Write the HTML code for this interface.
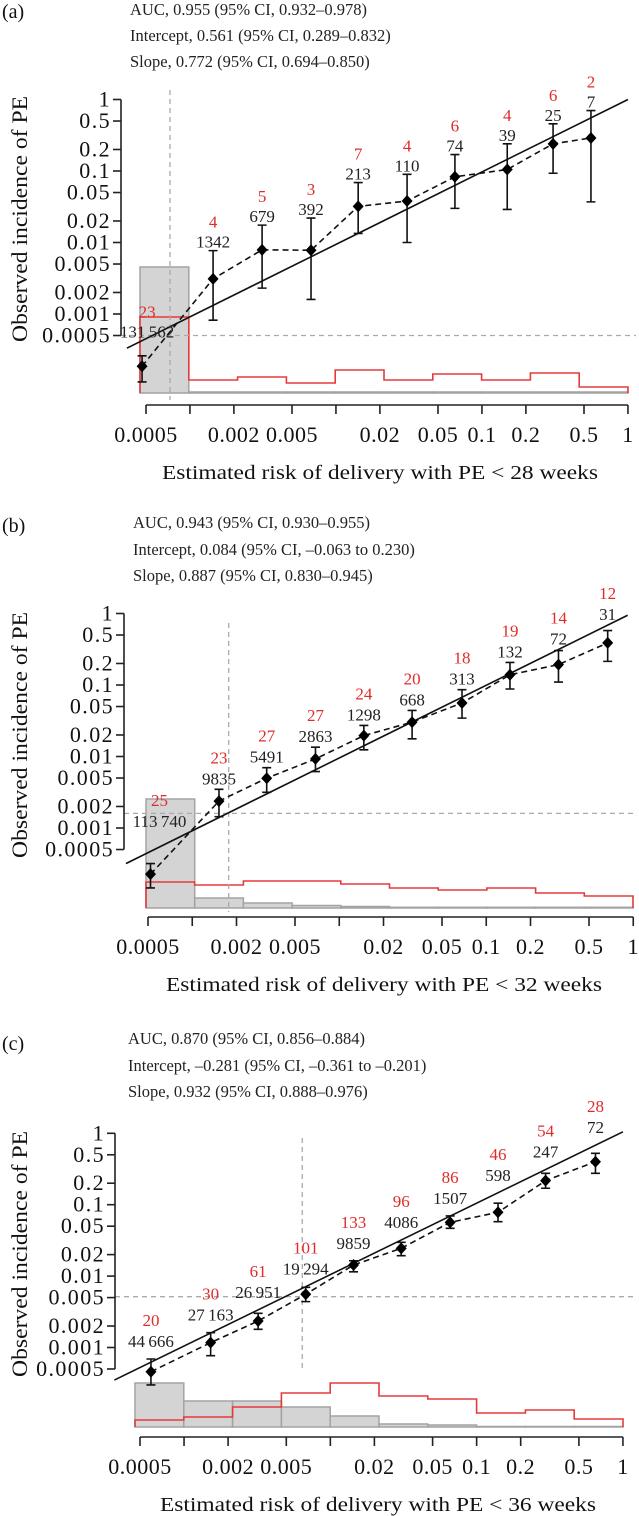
<!DOCTYPE html>
<html><head><meta charset="utf-8"><style>
html,body{margin:0;padding:0;background:#fff;}
svg{display:block;font-family:"Liberation Serif","DejaVu Serif",serif;}
</style></head><body>
<svg id="chart" width="639" height="1516" viewBox="0 0 639 1516" xmlns="http://www.w3.org/2000/svg"></svg>
<script>
const yTicks=[1,0.5,0.2,0.1,0.05,0.02,0.01,0.005,0.002,0.001,0.0005];
const yTickLabels=["1","0.5","0.2","0.1","0.05","0.02","0.01","0.005","0.002","0.001","0.0005"];
const xTicks=[0.0005,0.001,0.002,0.005,0.01,0.02,0.05,0.1,0.2,0.5,1];
const xTickLabels=["0.0005","","0.002","0.005","","0.02","0.05","0.1","0.2","0.5","1"];

// Panel (a) <28 weeks
const aRisk=[0.00047,0.00144,0.00312,0.00675,0.0142,0.0307,0.0653,0.149,0.307,0.558];
const aObs=[0.000186,0.0031,0.0079,0.0078,0.032,0.038,0.083,0.105,0.24,0.29];
const aHi=[0.00026,0.0077,0.0175,0.022,0.069,0.090,0.17,0.24,0.457,0.70];
const aLo=[0.000112,0.00082,0.0023,0.0016,0.0134,0.0100,0.030,0.029,0.093,0.037];
const aN=[131562,1342,679,392,213,110,74,39,25,7];
const aCases=[23,4,5,3,7,4,6,4,6,2];
const aGray=[126,1,1,1,1,1,1,1,1,1];
const aRed=[76,13,16,10,23,13,19,13,20,6];
const aLineX=[0.00037,1];
const aLineY=[0.000333,1];
const aRef=[0.00073,0.0005];
const aStats=["AUC, 0.955 (95% CI, 0.932–0.978)","Intercept, 0.561 (95% CI, 0.289–0.832)","Slope, 0.772 (95% CI, 0.694–0.850)"];

// Panel (b) <32 weeks
const bRisk=[0.00052,0.00152,0.00321,0.00689,0.0147,0.0313,0.0684,0.145,0.310,0.670];
const bObs=[0.000226,0.00238,0.00497,0.00925,0.0196,0.0303,0.056,0.139,0.193,0.388];
const bHi=[0.000318,0.00348,0.00698,0.0135,0.0272,0.0441,0.0859,0.207,0.303,0.578];
const bLo=[0.000145,0.00144,0.00316,0.00615,0.0124,0.0177,0.0344,0.0879,0.110,0.214];
const bN=[113740,9835,5491,2863,1298,668,313,132,72,31];
const bCases=[25,23,27,27,24,20,18,19,14,12];
const bGray=[109,10,5,2.5,1.5,0.7,0.7,0.7,0.7,0.7];
const bRed=[26,23,27,27,24,20,18,20,15,12];
const bLineX=[0.000354,0.916];
const bLineY=[0.000318,0.946];
const bRef=[0.00177,0.0016];
const bStats=["AUC, 0.943 (95% CI, 0.930–0.955)","Intercept, 0.084 (95% CI, –0.063 to 0.230)","Slope, 0.887 (95% CI, 0.830–0.945)"];

// Panel (c) <36 weeks
const cRisk=[0.000594,0.00152,0.00321,0.00679,0.0144,0.0305,0.0659,0.140,0.296,0.649];
const cObs=[0.000458,0.00117,0.00235,0.00556,0.0143,0.0245,0.0566,0.0783,0.217,0.400];
const cHi=[0.00069,0.00161,0.00301,0.00697,0.0164,0.0297,0.0695,0.105,0.275,0.525];
const cLo=[0.000299,0.000767,0.0018,0.00439,0.0115,0.0193,0.0467,0.0578,0.170,0.275];
const cN=[44666,27163,26951,19294,9859,4086,1507,598,247,72];
const cCases=[20,30,61,101,133,96,86,46,54,28];
const cGray=[44,26,26,20,11,3,2,0.5,0.5,0.5];
const cRed=[7,10,20,34,44,31,28,14,17,8];
const cLineX=[0.000334,1];
const cLineY=[0.00035,1.05];
const cRef=[0.00643,0.00515];
const cStats=["AUC, 0.870 (95% CI, 0.856–0.884)","Intercept, –0.281 (95% CI, –0.361 to –0.201)","Slope, 0.932 (95% CI, 0.888–0.976)"];

const NS="http://www.w3.org/2000/svg";
const svg=document.getElementById('chart');
function mk(tag,attrs,parent){const e=document.createElementNS(NS,tag);for(const k in attrs)e.setAttribute(k,attrs[k]);(parent||svg).appendChild(e);return e;}
function fmt(n){const s=String(n);return n>=10000?s.slice(0,s.length-3)+"\u2009"+s.slice(-3):s;}
const L=Math.log10;

function panel(id,tag,weeks,lay,risk,obs,lo,hi,n,cases,gray,red,lineX,lineY,ref,stats){
  const g=mk('g',{});
  
  
  const sx=v=>lay.x0+(L(v)-L(0.0005))*lay.dx;
  const sy=v=>lay.y1-L(v)*lay.dy;
  const pl=mk('text',{x:2,y:lay.lab,'font-size':20,fill:'#111'},g);pl.textContent='('+id+')';
  
  
  stats.forEach((s,i)=>{const t=mk('text',{x:lay.hx,y:lay.hy[i],'font-size':16.5,fill:'#222'},g);t.textContent=s;
    
    });
  const hw=(lay.hr-lay.hl)/gray.length;
  gray.forEach((v,i)=>{const r=mk('rect',{x:lay.hl+i*hw,y:lay.base-v,width:hw,height:v,fill:'#d4d4d4',stroke:'#a3a3a3','stroke-width':1.5},g);
    
    });
  let pts=[[lay.hl,lay.base]];
  red.forEach((v,i)=>{pts.push([lay.hl+i*hw,lay.base-v]);pts.push([lay.hl+(i+1)*hw,lay.base-v]);});
  pts.push([lay.hr,lay.base]);
  const rp=mk('polyline',{points:pts.map(p=>p.join(',')).join(' '),fill:'none',stroke:'#e53a3a','stroke-width':1.6},g);
  
  
  const vx=sx(ref[0]),hy=sy(ref[1]);
  const vl=mk('line',{x1:vx,x2:vx,y1:lay.vt,y2:lay.vb,stroke:'#aaa','stroke-width':1.3,'stroke-dasharray':'5,4'},g);
  
  
  const hl=mk('line',{x1:lay.ax,x2:636,y1:hy,y2:hy,stroke:'#aaa','stroke-width':1.3,'stroke-dasharray':'5,4'},g);
  
  
  const ya=mk('line',{x1:lay.ax,x2:lay.ax,y1:sy(1),y2:sy(0.0005),stroke:'#222','stroke-width':1.6},g);
  
  
  yTicks.forEach((v,i)=>{const y=sy(v);mk('line',{x1:lay.ax-8,x2:lay.ax,y1:y,y2:y,stroke:'#222','stroke-width':1.6},g);
    const t=mk('text',{x:lay.ax-10,y:y+7,'font-size':22,'text-anchor':'end','letter-spacing':1.4,fill:'#111'},g);t.textContent=yTickLabels[i];
    
    });
  const yt=mk('text',{x:0,y:0,'font-size':22,'text-anchor':'middle',fill:'#111',textLength:246,lengthAdjust:'spacingAndGlyphs',transform:'translate(27,'+lay.yt+') rotate(-90)'},g);
  yt.textContent='Observed incidence of PE';
  
  
  const xa=mk('line',{x1:sx(0.0005),x2:sx(1),y1:lay.xa,y2:lay.xa,stroke:'#222','stroke-width':1.6},g);
  
  
  xTicks.forEach((v,i)=>{const x=sx(v);mk('line',{x1:x,x2:x,y1:lay.xa,y2:lay.xa+9,stroke:'#222','stroke-width':1.6},g);
    if(xTickLabels[i]){const t=mk('text',{x:x,y:lay.xa+37,'font-size':22,'text-anchor':'middle','letter-spacing':0.5,fill:'#111'},g);t.textContent=xTickLabels[i];
    
    }});
  const xt=mk('text',{x:lay.xtc,y:lay.xa+74,'font-size':20,'text-anchor':'middle',fill:'#111',textLength:436,lengthAdjust:'spacingAndGlyphs'},g);
  xt.textContent='Estimated risk of delivery with PE < '+weeks+' weeks';
  
  
  const cl=mk('line',{x1:sx(lineX[0]),y1:sy(lineY[0]),x2:sx(lineX[1]),y2:sy(lineY[1]),stroke:'#111','stroke-width':1.6},g);
  
  
  const lineAt=x=>{const x1=sx(lineX[0]),y1=sy(lineY[0]),x2=sx(lineX[1]),y2=sy(lineY[1]);return y1+(y2-y1)*(x-x1)/(x2-x1);};
  const dl=mk('polyline',{points:risk.map((r,i)=>sx(r)+','+sy(obs[i])).join(' '),fill:'none',stroke:'#111','stroke-width':1.6,'stroke-dasharray':'6,4'},g);
  
  
  risk.forEach((r,i)=>{
    const x=sx(r),y=sy(obs[i]),yh=sy(hi[i]),yl=sy(lo[i]);
    const eb=mk('path',{d:`M${x},${yh}V${yl}M${x-4.5},${yh}H${x+4.5}M${x-4.5},${yl}H${x+4.5}`,stroke:'#111','stroke-width':1.6,fill:'none'},g);
    
    
    const d=mk('path',{d:`M${x},${y-6}L${x+5.5},${y}L${x},${y+6}L${x-5.5},${y}Z`,fill:'#000'},g);
    
    
    let top=Math.min(yh,lineAt(x));
    if(i===0&&lay.firstTop)top=lay.firstTop;
    const nx=(i===0)?x+lay.firstDx:x;
    const t1=mk('text',{x:nx,y:top+lay.o1,'font-size':17,'text-anchor':'middle',fill:'#222'},g);t1.textContent=fmt(n[i]);
    
    
    const t2=mk('text',{x:nx,y:top+lay.o2,'font-size':17,'text-anchor':'middle',fill:'#e02b2b'},g);t2.textContent=String(cases[i]);
    
    
  });
}
panel('a','a',28,{x0:146,dx:146,y1:99.5,dy:71.5,ax:121,xa:405,base:393,hl:140,hr:628,vt:90,vb:400,o1:-3,o2:-23,hx:130,hy:[15,41,67],lab:18,yt:219,xtc:380,firstDx:5,firstTop:0},
  aRisk,aObs,aLo,aHi,aN,aCases,aGray,aRed,aLineX,aLineY,aRef,aStats);
panel('b','b',32,{x0:148,dx:147,y1:613.5,dy:71.5,ax:124,xa:917,base:908,hl:146,hr:633,vt:623,vb:912,o1:-5,o2:-26,hx:133,hy:[528,555,581],lab:532,yt:735,xtc:384,firstDx:9,firstTop:832},
  bRisk,bObs,bLo,bHi,bN,bCases,bGray,bRed,bLineX,bLineY,bRef,bStats);
panel('c','c',36,{x0:140,dx:146.3,y1:1133.3,dy:71.4,ax:115,xa:1437,base:1427,hl:135,hr:623,vt:1138,vb:1368,o1:-12,o2:-33,hx:128,hy:[1044,1071,1097],lab:1050,yt:1254,xtc:378,firstDx:0,firstTop:0},
  cRisk,cObs,cLo,cHi,cN,cCases,cGray,cRed,cLineX,cLineY,cRef,cStats);
</script>
</body></html>
